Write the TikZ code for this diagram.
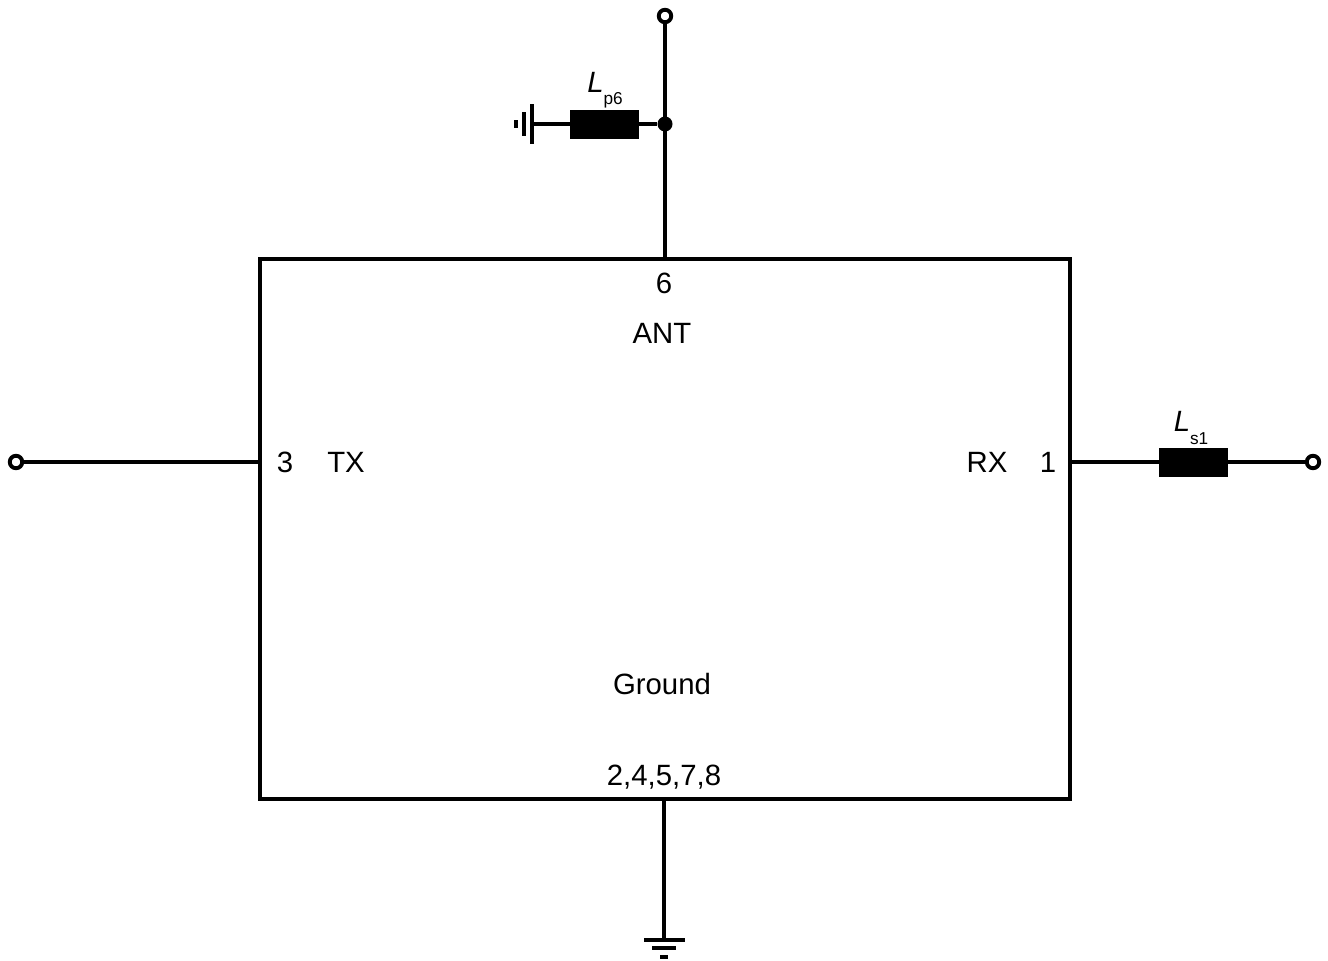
\documentclass[tikz,border=0pt]{standalone}
\usepackage{fontspec}
\setmainfont{Liberation Sans}
\tikzset{
  wire/.style={line width=2.3pt},
  chip/.style={draw,line width=1.8pt,minimum width=810*0.02cm,minimum height=540*0.02cm,inner sep=0pt},
  inductor/.style={draw,fill=black,line width=0pt,minimum width=68*0.02cm,minimum height=28*0.02cm,inner sep=0pt},
  terminal/.style={circle,draw,fill=white,line width=2.2pt,minimum size=12.5*0.02cm,inner sep=0pt},
  junction/.style={circle,fill=black,minimum size=15*0.02cm,inner sep=0pt},
  pin/.style={font=\fontsize{16.7}{20}\selectfont,inner sep=0pt},
  partlabel/.style={font=\fontsize{16.7}{20}\selectfont,inner sep=0pt}
}
\newcommand{\indname}[1]{\textit{L}\raisebox{-6.9pt}{\fontsize{9.8}{11}\selectfont #1}}
\begin{document}
\begin{tikzpicture}[x=0.02cm,y=-0.02cm]
\useasboundingbox (0,0) rectangle (1328,960);
% filter block
\node[chip] (chip) at (665,529) {};
\node[pin] (pin6) at (664,283) {6};
\node[pin] (ant) at (662,333) {ANT};
\node[pin] (pin3) at (285,462) {3};
\node[pin] (tx) at (346,462) {TX};
\node[pin] (rx) at (987,462) {RX};
\node[pin] (pin1) at (1048,462) {1};
\node[pin] (gnd) at (662,684) {Ground};
\node[pin] (pins) at (664,777) {2,4,5,7,8};
% antenna side
\node[terminal] (antport) at (665,16) {};
\node[junction] (antnode) at (665,124) {};
\coordinate (chiptop) at (665,259);
\node[inductor] (lp) at (604,124) {};
\node[partlabel] (lplabel) at (605,90) {\indname{p6}};
\coordinate (gndleft) at (532,124);
\draw[wire] (antport) -- (chiptop);
\draw[wire] (antnode) -- (lp) -- (gndleft);
\draw[wire] (532,104) -- (532,144);
\draw[wire] (524,112) -- (524,136);
\draw[wire] (516,120) -- (516,128);
% tx side
\node[terminal] (txport) at (16,462) {};
\coordinate (chipleft) at (260,462);
\draw[wire] (txport) -- (chipleft);
% rx side
\coordinate (chipright) at (1070,462);
\node[inductor] (ls) at (1193,462) {};
\node[terminal] (rxport) at (1313,462) {};
\node[partlabel] (lslabel) at (1191,428) {\indname{s1}};
\draw[wire] (chipright) -- (ls) -- (rxport);
% ground
\coordinate (chipbot) at (664,799);
\coordinate (gndbot) at (664,940);
\draw[wire] (chipbot) -- (gndbot);
\draw[wire] (644,940) -- (685,940);
\draw[wire] (652,948) -- (676,948);
\draw[wire] (660,957) -- (668,957);
\end{tikzpicture}
\end{document}
